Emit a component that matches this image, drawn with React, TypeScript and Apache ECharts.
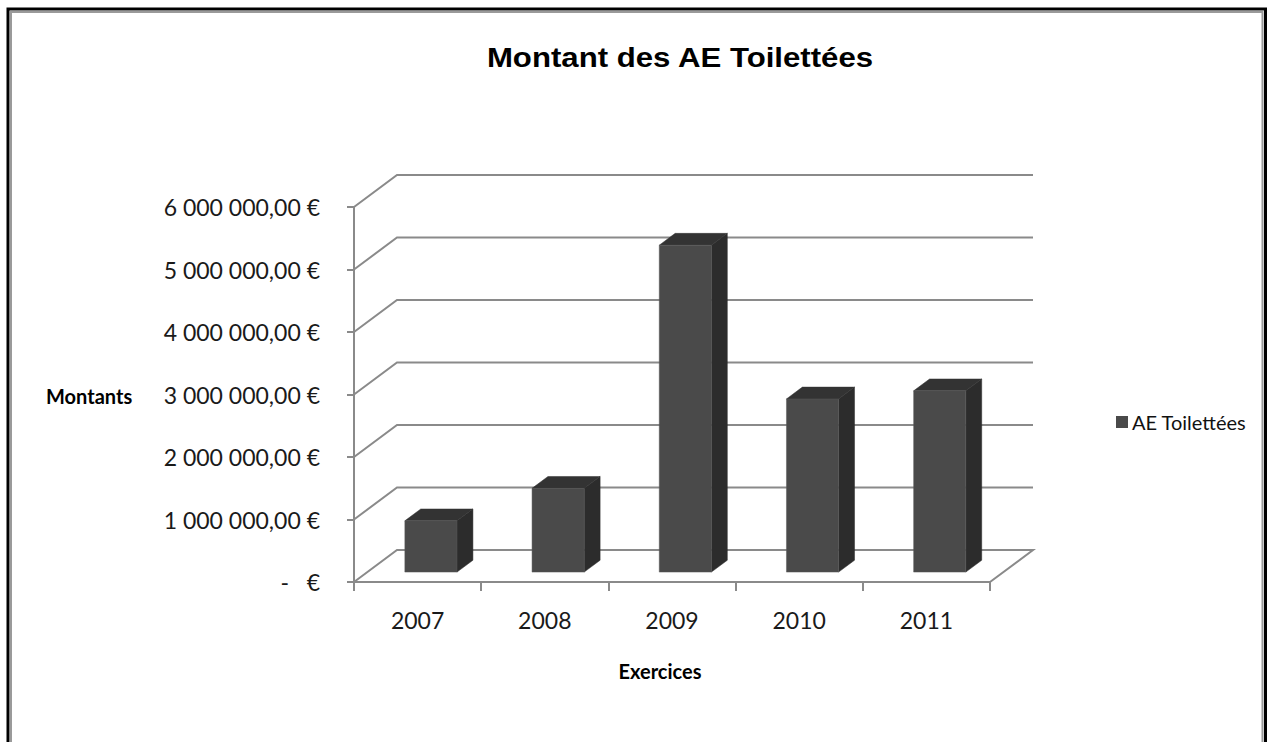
import React, { useEffect, useRef } from "react";
import * as echarts from "echarts";

const CATEGORIES: string[] = ["2007", "2008", "2009", "2010", "2011"];
const VALUES: number[] = [820000, 1340000, 5230000, 2770000, 2900000];
const Y_TICKS: number[] = [0, 1000000, 2000000, 3000000, 4000000, 5000000, 6000000];
const SERIES_NAME = "AE Toilettées";
const TITLE = "Montant des AE Toilettées";
const Y_NAME = "Montants";
const X_NAME = "Exercices";

// 3D depth vector (pixels) and bar depth placement
const DX = 43;
const DY = -32;
const T0 = 0.31;
const T1 = 0.68;
const GRID_COLOR = "#8a8a8a";

function fmtEuro(v: number): string {
  if (v === 0) return "-   €";
  const s = Math.round(v)
    .toString()
    .replace(/\B(?=(\d{3})+(?!\d))/g, " ");
  return s + ",00 €";
}

export default function App() {
  const ref = useRef<HTMLDivElement>(null);
  useEffect(() => {
    if (!ref.current) return;
    const chart = echarts.init(ref.current, null, { renderer: "svg" });
    const option: any = {
      animation: false,
      backgroundColor: "#ffffff",
      graphic: [
        {
          type: "rect",
          shape: { x: 8, y: 9, width: 1257.5, height: 900 },
          style: { fill: "none", stroke: "#000", lineWidth: 3 },
          z: 100,
        },
        {
          type: "rect",
          shape: { x: 11, y: 12, width: 1251.5, height: 900 },
          style: { fill: "none", stroke: "#9a9a9a", lineWidth: 2 },
          z: 100,
        },
        {
          type: "text",
          x: 680,
          y: 58,
          scaleX: 1.155,
          style: {
            text: TITLE,
            font: "bold 27px 'Liberation Sans', Arial, sans-serif",
            fill: "#000",
            align: "center",
            verticalAlign: "middle",
          },
        },
        {
          type: "text",
          x: 46,
          y: 396,
          style: {
            text: Y_NAME,
            font: "bold 20px Lato, sans-serif",
            fill: "#000",
            align: "left",
            verticalAlign: "middle",
          },
        },
        {
          type: "text",
          x: 660,
          y: 671,
          style: {
            text: X_NAME,
            font: "bold 20px Lato, sans-serif",
            fill: "#000",
            align: "center",
            verticalAlign: "middle",
          },
        },
      ],
      legend: {
        data: [{ name: SERIES_NAME, icon: "rect" }],
        left: 1116,
        top: 412,
        padding: 0,
        itemWidth: 12,
        itemHeight: 12,
        itemGap: 4,
        textStyle: { fontFamily: "Lato", fontSize: 20, color: "#111", lineHeight: 20, padding: [0, 0, 0, -1] },
      },
      grid: { left: 354, top: 207, width: 636, height: 375, containLabel: false },
      xAxis: {
        type: "category",
        data: CATEGORIES,
        boundaryGap: true,
        axisLine: { show: true, lineStyle: { color: GRID_COLOR, width: 2 } },
        axisTick: {
          show: true,
          interval: 0,
          alignWithLabel: false,
          length: 9,
          lineStyle: { color: GRID_COLOR, width: 2 },
        },
        axisLabel: {
          margin: 26,
          fontFamily: "Lato",
          fontSize: 23,
          color: "#1a1a1a",
        },
        splitLine: { show: false },
      },
      yAxis: {
        type: "value",
        min: 0,
        max: 6000000,
        interval: 1000000,
        axisLine: { show: true, lineStyle: { color: GRID_COLOR, width: 2 } },
        axisTick: { show: true, length: 7, lineStyle: { color: GRID_COLOR, width: 2 } },
        axisLabel: {
          margin: 34,
          fontFamily: "Lato",
          fontSize: 23,
          color: "#1a1a1a",
          formatter: (v: number) => fmtEuro(v),
        },
        splitLine: { show: false },
      },
      series: [
        {
          type: "custom",
          name: "walls",
          silent: true,
          clip: false,
          z: 1,
          data: Y_TICKS.map((v) => [0, v]),
          encode: { x: 0, y: 1 },
          renderItem: (params: any, api: any) => {
            const cs = params.coordSys;
            const v = api.value(1);
            const y = api.coord([0, v])[1];
            const pts: number[][] = [
              [cs.x, y],
              [cs.x + DX, y + DY],
              [cs.x + cs.width + DX, y + DY],
            ];
            if (v === 0) pts.push([cs.x + cs.width, y]);
            return {
              type: "polyline",
              shape: { points: pts },
              style: { stroke: GRID_COLOR, lineWidth: 2, fill: null },
            };
          },
        },
        {
          type: "custom",
          name: SERIES_NAME,
          clip: false,
          z: 5,
          itemStyle: { color: "#4a4a4a" },
          data: VALUES.map((v, i) => [i, v]),
          encode: { x: 0, y: 1 },
          renderItem: (params: any, api: any) => {
            const i = api.value(0);
            const v = api.value(1);
            const base = api.coord([i, 0]);
            const top = api.coord([i, v]);
            const bw = api.size([1, 0])[0] * 0.41;
            const x0 = base[0] - bw / 2 + DX * T0;
            const x1 = x0 + bw;
            const y0 = base[1] + DY * T0;
            const yt = top[1] + DY * T0;
            const ddx = DX * (T1 - T0);
            const ddy = DY * (T1 - T0);
            return {
              type: "group",
              children: [
                {
                  type: "polygon",
                  shape: { points: [[x1, yt], [x1 + ddx, yt + ddy], [x1 + ddx, y0 + ddy], [x1, y0]] },
                  style: { fill: "#2c2c2c", stroke: "#2c2c2c", lineWidth: 0.5 },
                },
                {
                  type: "polygon",
                  shape: { points: [[x0, yt], [x0 + ddx, yt + ddy], [x1 + ddx, yt + ddy], [x1, yt]] },
                  style: { fill: "#333333", stroke: "#333333", lineWidth: 0.5 },
                },
                {
                  type: "polygon",
                  shape: { points: [[x0, yt], [x1, yt], [x1, y0], [x0, y0]] },
                  style: { fill: "#4a4a4a", stroke: "#5a5a5a", lineWidth: 0.5 },
                },
              ],
            };
          },
        },
      ],
    };
    chart.setOption(option);
    return () => chart.dispose();
  }, []);
  return (
    <div
      ref={ref}
      style={{ position: "fixed", left: 0, top: 0, width: 1268, height: 742 }}
    />
  );
}
